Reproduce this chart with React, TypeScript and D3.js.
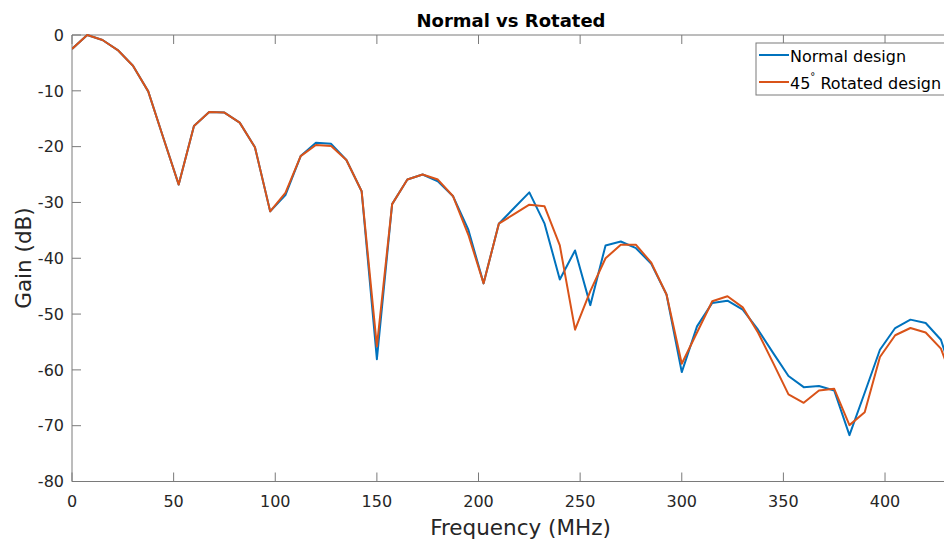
import React from "react";
import * as d3 from "d3";

const frequencies: number[] = [
  0, 7.5, 15, 22.5, 30, 37.5, 45, 52.5, 60, 67.5, 75, 82.5, 90, 97.5, 105, 112.5,
  120, 127.5, 135, 142.5, 150, 157.5, 165, 172.5, 180, 187.5, 195, 202.5, 210,
  217.5, 225, 232.5, 240, 247.5, 255, 262.5, 270, 277.5, 285, 292.5, 300, 307.5,
  315, 322.5, 330, 337.5, 345, 352.5, 360, 367.5, 375, 382.5, 390, 397.5, 405,
  412.5, 420, 427.5, 435,
];

const normalDesign: number[] = [
  -2.5, 0, -0.9, -2.7, -5.5, -10.1, -18.5, -26.8, -16.3, -13.8, -13.9, -15.7,
  -20.1, -31.6, -28.7, -21.7, -19.3, -19.5, -22.4, -28.0, -58.1, -30.3, -25.9,
  -25.0, -26.2, -28.9, -34.9, -44.5, -33.8, -31.0, -28.2, -33.8, -43.8, -38.6,
  -48.4, -37.7, -37.0, -38.2, -41.0, -46.5, -60.4, -52.2, -48.0, -47.6, -49.2,
  -52.8, -57.0, -61.1, -63.1, -62.9, -63.7, -71.7, -64.1, -56.4, -52.5, -51.0,
  -51.6, -54.6, -63.0,
];

const rotatedDesign: number[] = [
  -2.5, 0, -0.9, -2.7, -5.5, -10.1, -18.5, -26.8, -16.3, -13.8, -13.9, -15.7,
  -20.1, -31.6, -28.3, -21.7, -19.7, -19.9, -22.4, -28.0, -55.8, -30.3, -25.9,
  -25.0, -25.9, -28.9, -35.8, -44.5, -33.8, -32.1, -30.4, -30.7, -37.7, -52.8,
  -45.9, -40.0, -37.6, -37.6, -40.8, -46.5, -58.9, -53.3, -47.7, -46.8, -48.8,
  -53.3, -58.8, -64.4, -65.9, -63.7, -63.4, -69.9, -67.6, -57.7, -53.8, -52.5,
  -53.3, -56.2, -63.5,
];

const xTicks: number[] = [0, 50, 100, 150, 200, 250, 300, 350, 400];
const yTicks: number[] = [0, -10, -20, -30, -40, -50, -60, -70, -80];

const titleText = "Normal vs Rotated";
const xLabel = "Frequency (MHz)";
const yLabel = "Gain (dB)";

const W = 944;
const H = 542;
const LEFT = 72;
const RIGHT = 946;
const TOP = 35;
const BOTTOM = 481.5;

const BLUE = "#0072BD";
const ORANGE = "#D95319";
const AXIS = "#7a7a7a";
const TEXT = "#262626";
const FONT = "'DejaVu Sans', sans-serif";

export default function App() {
  const x = d3.scaleLinear().domain([0, 430]).range([LEFT, RIGHT]);
  const y = d3.scaleLinear().domain([-80, 0]).range([BOTTOM, TOP]);

  const line = d3
    .line<number>()
    .x((_, i) => x(frequencies[i]))
    .y((d) => y(d));

  const tickLen = 9;

  return (
    <svg
      width={W}
      height={H}
      style={{ position: "absolute", left: 0, top: 0, background: "#fff" }}
      fontFamily={FONT}
    >
      <rect x={0} y={0} width={W} height={H} fill="#fff" />
      <defs>
        <clipPath id="plotclip">
          <rect x={LEFT} y={TOP - 2} width={RIGHT - LEFT} height={BOTTOM - TOP + 4} />
        </clipPath>
      </defs>

      {/* ticks */}
      {xTicks.map((t) => (
        <g key={"xt" + t}>
          <line x1={x(t)} x2={x(t)} y1={BOTTOM} y2={BOTTOM - tickLen} stroke={AXIS} strokeWidth={1} />
          <line x1={x(t)} x2={x(t)} y1={TOP} y2={TOP + tickLen} stroke={AXIS} strokeWidth={1} />
          <text x={x(t)} y={506.5} textAnchor="middle" fontSize={16} fill={TEXT}>
            {t}
          </text>
        </g>
      ))}
      {yTicks.map((t) => (
        <g key={"yt" + t}>
          <line x1={LEFT} x2={LEFT + tickLen} y1={y(t)} y2={y(t)} stroke={AXIS} strokeWidth={1} />
          <text x={64} y={y(t)} dy="0.36em" textAnchor="end" fontSize={16} fill={TEXT}>
            {t}
          </text>
        </g>
      ))}

      {/* axes box */}
      <line x1={LEFT} x2={RIGHT} y1={BOTTOM} y2={BOTTOM} stroke={AXIS} strokeWidth={1} />
      <line x1={LEFT} x2={RIGHT} y1={TOP} y2={TOP} stroke={AXIS} strokeWidth={1} />
      <line x1={LEFT} x2={LEFT} y1={TOP} y2={BOTTOM} stroke={AXIS} strokeWidth={1} />
      <line x1={RIGHT} x2={RIGHT} y1={TOP} y2={BOTTOM} stroke={AXIS} strokeWidth={1} />

      {/* series */}
      <g clipPath="url(#plotclip)">
        <path d={line(normalDesign) || ""} fill="none" stroke={BLUE} strokeWidth={2} strokeLinejoin="round" />
        <path d={line(rotatedDesign) || ""} fill="none" stroke={ORANGE} strokeWidth={2} strokeLinejoin="round" />
      </g>

      {/* legend */}
      <rect x={756} y={43} width={200} height={52} fill="#fff" stroke={AXIS} strokeWidth={1} />
      <line x1={759} x2={789} y1={55} y2={55} stroke={BLUE} strokeWidth={2} />
      <text x={790} y={62} fontSize={16} fill="#000">
        Normal design
      </text>
      <line x1={759} x2={789} y1={82} y2={82} stroke={ORANGE} strokeWidth={2} />
      <text x={790} y={89} fontSize={16} fill="#000">
        45
        <tspan fontSize={10} dy={-9}>°</tspan>
        <tspan dy={9}> Rotated design</tspan>
      </text>

      {/* title and labels */}
      <text x={511} y={26.5} textAnchor="middle" fontSize={18} fontWeight="bold" fill="#000">
        {titleText}
      </text>
      <text x={520.5} y={535} textAnchor="middle" fontSize={21.5} fill={TEXT}>
        {xLabel}
      </text>
      <text
        transform={`translate(30.5, 258) rotate(-90)`}
        textAnchor="middle"
        fontSize={21.5}
        fill={TEXT}
      >
        {yLabel}
      </text>
    </svg>
  );
}
